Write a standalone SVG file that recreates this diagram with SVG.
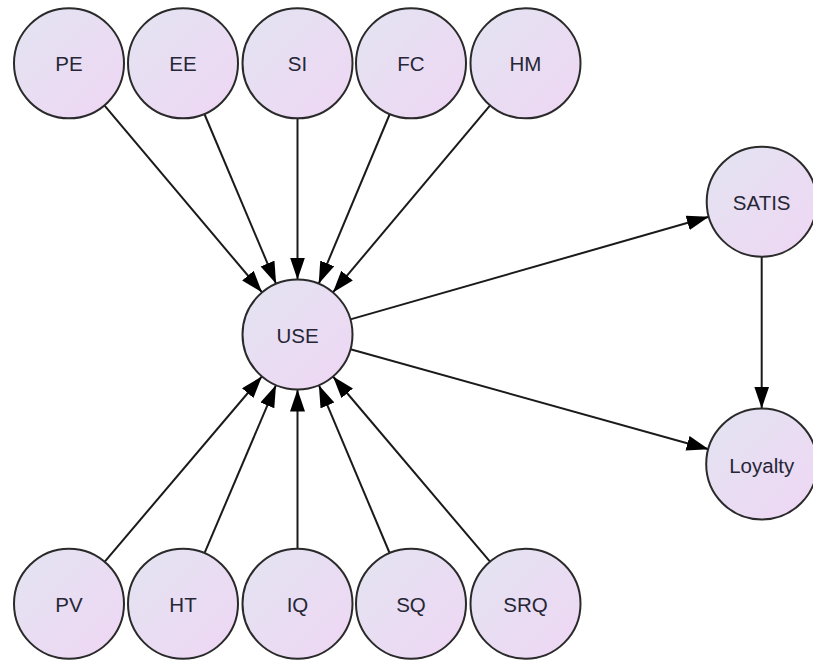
<svg xmlns="http://www.w3.org/2000/svg" width="813" height="662" viewBox="0 0 813 662">
<style>
.node circle{fill:url(#g);stroke:#2a2a2a;stroke-width:2}
.node text{font-family:"Liberation Sans",Arial,sans-serif;font-size:20.5px;fill:#262636;text-anchor:middle}
#edges path{stroke:#1a1a1a;stroke-width:2;fill:none;marker-end:url(#arr)}
</style>
<defs>
<linearGradient id="g" x1="0" y1="0" x2="1" y2="1">
<stop offset="0" stop-color="#e3e4f1"/>
<stop offset="1" stop-color="#efd6f4"/>
</linearGradient>
<marker id="arr" markerUnits="userSpaceOnUse" markerWidth="24" markerHeight="16" refX="22" refY="7.5" orient="auto">
<path d="M0,0 L22,7.5 L0,15 z" fill="#000"/>
</marker>
</defs>
<rect width="813" height="662" fill="#fff"/>
<g id="edges">
<path d="M104.4,105.4 L262.1,292.4"/>
<path d="M204.4,114.0 L276.1,283.8"/>
<path d="M297.5,118.3 L297.5,279.5"/>
<path d="M389.8,114.0 L318.7,283.8"/>
<path d="M490.1,105.4 L332.9,292.4"/>
<path d="M104.6,561.8 L261.9,376.4"/>
<path d="M204.5,553.1 L276.0,385.1"/>
<path d="M297.5,548.7 L297.5,389.5"/>
<path d="M389.6,553.0 L318.9,385.2"/>
<path d="M490.0,561.7 L333.0,376.5"/>
<path d="M350.4,319.4 L708.8,216.8"/>
<path d="M350.5,349.3 L708.7,449.2"/>
<path d="M761.7,256.7 L761.7,408.5"/>
</g>
<g id="PE" class="node"><circle cx="69" cy="63.3" r="55"/><text x="69" y="71.3">PE</text></g>
<g id="EE" class="node"><circle cx="183" cy="63.3" r="55"/><text x="183" y="71.3">EE</text></g>
<g id="SI" class="node"><circle cx="297.5" cy="63.3" r="55"/><text x="297.5" y="71.3">SI</text></g>
<g id="FC" class="node"><circle cx="411" cy="63.3" r="55"/><text x="411" y="71.3">FC</text></g>
<g id="HM" class="node"><circle cx="525.5" cy="63.3" r="55"/><text x="525.5" y="71.3">HM</text></g>
<g id="USE" class="node"><circle cx="297.5" cy="334.5" r="55"/><text x="297.5" y="342.5">USE</text></g>
<g id="SATIS" class="node"><circle cx="761.7" cy="201.7" r="55"/><text x="761.7" y="209.7">SATIS</text></g>
<g id="Loyalty" class="node"><circle cx="761.7" cy="464" r="55.5"/><text x="761.7" y="472.5">Loyalty</text></g>
<g id="PV" class="node"><circle cx="69" cy="603.7" r="55"/><text x="69" y="611.7">PV</text></g>
<g id="HT" class="node"><circle cx="183" cy="603.7" r="55"/><text x="183" y="611.7">HT</text></g>
<g id="IQ" class="node"><circle cx="297.5" cy="603.7" r="55"/><text x="297.5" y="611.7">IQ</text></g>
<g id="SQ" class="node"><circle cx="411" cy="603.7" r="55"/><text x="411" y="611.7">SQ</text></g>
<g id="SRQ" class="node"><circle cx="525.5" cy="603.7" r="55"/><text x="525.5" y="611.7">SRQ</text></g>
</svg>
